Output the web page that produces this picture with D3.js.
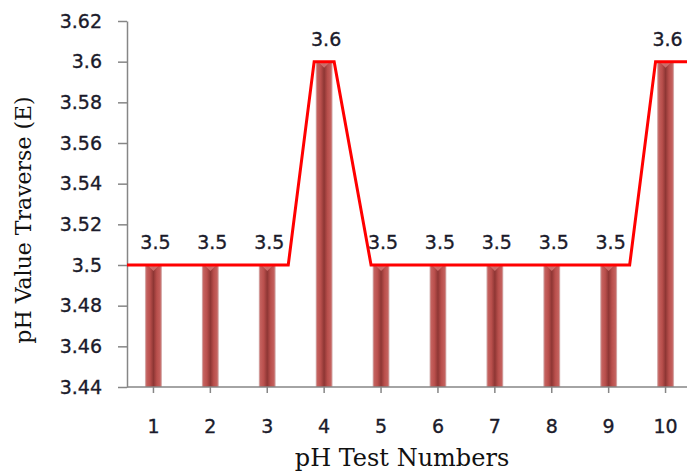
<!DOCTYPE html>
<html>
<head>
<meta charset="utf-8">
<script src="https://cdn.jsdelivr.net/npm/d3@7"></script>
<style>
  html, body { margin: 0; padding: 0; background: #fff; }
  svg { display: block; }
</style>
</head>
<body>
<svg id="chart" width="687" height="474"></svg>
<script>
// ---- data ----
const categories = ["1", "2", "3", "4", "5", "6", "7", "8", "9", "10"];
const phValues = [3.5, 3.5, 3.5, 3.6, 3.5, 3.5, 3.5, 3.5, 3.5, 3.6];
const yTickValues = [3.44, 3.46, 3.48, 3.5, 3.52, 3.54, 3.56, 3.58, 3.6, 3.62];
const yTitle = "pH Value Traverse (E)";
const xTitle = "pH Test Numbers";

// ---- layout ----
const plotLeft = 127, plotTop = 21, plotBottom = 387, plotRight = 687;
const svg = d3.select("#chart");

const x = d3.scaleBand().domain(categories).range([125, 694]);
const y = d3.scaleLinear().domain([3.44, 3.62]).range([plotBottom, plotTop]);
const barW = 17;

const defs = svg.append("defs");
const grad = defs.append("linearGradient").attr("id", "barGrad")
  .attr("x1", "0%").attr("x2", "100%").attr("y1", "0%").attr("y2", "0%");
[["0%", "#dcc4c4"], ["10%", "#c4615e"], ["30%", "#b94f4c"], ["50%", "#8e3634"],
 ["70%", "#b94f4c"], ["90%", "#c4615e"], ["100%", "#dcc4c4"]]
  .forEach(([o, c]) => grad.append("stop").attr("offset", o).attr("stop-color", c));

const tickFont = "'DejaVu Sans', Verdana, sans-serif";
const titleFont = "'DejaVu Serif', serif";
const textColor = "#1b1b2b";
const axisColor = "#868686";

function heavy(sel) {
  return sel.attr("stroke", textColor).attr("stroke-width", 0.35);
}

// ---- bars ----
const bars = svg.append("g");
bars.selectAll("rect").data(phValues).join("rect")
  .attr("x", (d, i) => x(categories[i]) + x.bandwidth() / 2 - barW / 2)
  .attr("y", d => y(d))
  .attr("width", barW)
  .attr("height", d => plotBottom - y(d))
  .attr("fill", "url(#barGrad)");
bars.selectAll("path.cap").data(phValues).join("path").attr("class", "cap")
  .attr("d", (d, i) => {
    const c = x(categories[i]) + x.bandwidth() / 2;
    const t = y(d);
    return `M${c - 5},${t + 1} L${c + 5},${t + 1} L${c},${t + 6} Z`;
  })
  .attr("fill", "#d77a77").attr("opacity", 0.8);

// ---- y axis ----
const yAxis = d3.axisLeft(y).tickValues(yTickValues).tickSize(9).tickSizeOuter(0)
  .tickPadding(16).tickFormat(d => String(d));
const gy = svg.append("g").attr("transform", `translate(${plotLeft},0)`).call(yAxis);
gy.select(".domain").attr("stroke", axisColor).attr("stroke-width", 1.5);
gy.selectAll(".tick line").attr("stroke", axisColor).attr("stroke-width", 1.5);
heavy(gy.selectAll(".tick text").attr("font-family", tickFont).attr("font-size", 19)
  .attr("fill", textColor));

// ---- x axis ----
const xAxis = d3.axisBottom(x).tickSize(6).tickSizeOuter(0).tickPadding(0);
const gx = svg.append("g").attr("transform", `translate(0,${plotBottom})`).call(xAxis);
gx.select(".domain").remove();
gx.append("line").attr("x1", plotLeft).attr("x2", plotRight).attr("y1", 0).attr("y2", 0)
  .attr("stroke", axisColor).attr("stroke-width", 1.5);
gx.selectAll(".tick line").attr("stroke", axisColor).attr("stroke-width", 1.5);
heavy(gx.selectAll(".tick text").attr("font-family", tickFont).attr("font-size", 19)
  .attr("fill", textColor).attr("dy", null).attr("y", 46));

// ---- line series ----
const vMin = d3.min(phValues);
const linePts = [];
phValues.forEach((v, i) => {
  const c = x(categories[i]) + x.bandwidth() / 2;
  if (i === 0) linePts.push([plotLeft, y(v)]);
  linePts.push([c - 10, y(v)]);
  linePts.push([c + (v === vMin ? 21 : 10), y(v)]);
  if (i === phValues.length - 1) linePts.push([plotRight, y(v)]);
});
svg.append("path").datum(linePts)
  .attr("d", d3.line())
  .attr("fill", "none").attr("stroke", "#ff0000").attr("stroke-width", 3)
  .attr("stroke-linejoin", "miter");

// ---- data labels ----
heavy(svg.append("g").selectAll("text").data(phValues).join("text")
  .attr("x", (d, i) => x(categories[i]) + x.bandwidth() / 2 + 2)
  .attr("y", d => y(d) - 16)
  .attr("text-anchor", "middle")
  .attr("font-family", tickFont).attr("font-size", 19).attr("fill", textColor)
  .text(d => String(d)));

// ---- titles ----
svg.append("text")
  .attr("transform", `translate(31,220) rotate(-90)`)
  .attr("text-anchor", "middle")
  .attr("font-family", titleFont).attr("font-size", 22).attr("fill", "#111")
  .text(yTitle);
svg.append("text")
  .attr("x", 402).attr("y", 466)
  .attr("text-anchor", "middle")
  .attr("font-family", titleFont).attr("font-size", 24).attr("fill", "#111")
  .text(xTitle);
</script>
</body>
</html>
